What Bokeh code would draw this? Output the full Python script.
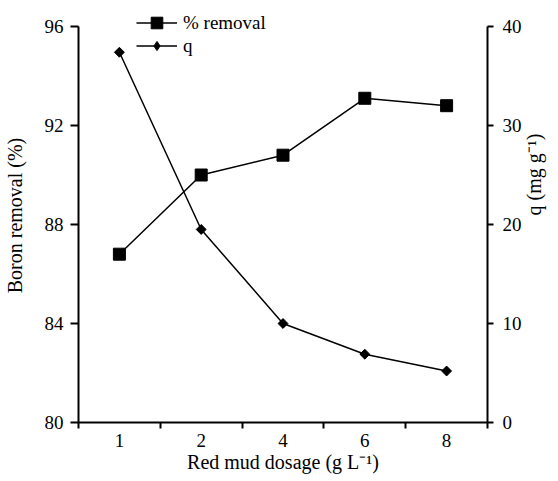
import math
from bokeh.plotting import figure
from bokeh.models import (Range1d, LinearAxis, FixedTicker, Legend, LegendItem,
                          CustomJSTickFormatter)
from bokeh.embed import file_html
from bokeh.resources import INLINE

# ---- data ----
dosage = ["1", "2", "4", "6", "8"]
removal = [86.8, 90.0, 90.8, 93.1, 92.8]
q_vals = [37.4, 19.5, 10.0, 6.9, 5.2]
left_ticks = [80, 84, 88, 92, 96]
right_ticks = [0, 10, 20, 30, 40]

xs = [i + 0.5 for i in range(len(dosage))]
bounds = list(range(len(dosage) + 1))

FONT = "Liberation Serif"
FS = "19px"
FS_LABEL = "20px"

# frame extends 18px above the top tick so the legend is not clipped
TOP_PAD_PX = 18
AX_PX = 396
left_end = left_ticks[-1] + TOP_PAD_PX * (left_ticks[-1] - left_ticks[0]) / AX_PX
right_end = right_ticks[-1] + TOP_PAD_PX * (right_ticks[-1] - right_ticks[0]) / AX_PX

p = figure(width=558, height=481, output_backend="svg", toolbar_location=None,
           x_range=Range1d(0, len(dosage)),
           y_range=Range1d(left_ticks[0], left_end),
           min_border_left=77, min_border_right=66, min_border_top=8,
           min_border_bottom=59)
p.grid.visible = False
p.outline_line_color = None
p.background_fill_color = "white"

def style_axis(ax):
    ax.axis_line_width = 2
    ax.axis_line_color = "black"
    ax.major_tick_line_width = 2
    ax.major_tick_line_color = "black"
    ax.minor_tick_line_width = 2
    ax.minor_tick_line_color = "black"
    ax.major_tick_in = 0
    ax.minor_tick_in = 0
    ax.major_label_text_font = FONT
    ax.major_label_text_font_size = FS
    ax.major_label_text_color = "black"
    ax.axis_label_text_font = FONT
    ax.axis_label_text_font_size = FS_LABEL
    ax.axis_label_text_font_style = "normal"
    ax.axis_label_text_color = "black"

# x axis
xa = p.xaxis[0]
style_axis(xa)
xa.ticker = FixedTicker(ticks=xs, minor_ticks=bounds)
xa.formatter = CustomJSTickFormatter(args=dict(labels=dosage),
                                     code="return labels[Math.floor(tick)];")
xa.major_tick_line_color = None
xa.major_tick_out = 6
xa.minor_tick_out = 6
xa.major_label_standoff = 5
xa.axis_label = "Red mud dosage (g L\u207b\u00b9)"
xa.axis_label_standoff = 1

# left axis
ya = p.yaxis[0]
style_axis(ya)
ya.ticker = FixedTicker(ticks=left_ticks, minor_ticks=[])
ya.bounds = (left_ticks[0], left_ticks[-1])
ya.major_tick_out = 8
ya.minor_tick_out = 0
ya.major_label_standoff = 7
ya.axis_label = "Boron removal (%)"
ya.axis_label_standoff = 16

# right axis
p.extra_y_ranges = {"q": Range1d(right_ticks[0], right_end)}
ra = LinearAxis(y_range_name="q")
style_axis(ra)
ra.ticker = FixedTicker(ticks=right_ticks, minor_ticks=[])
ra.bounds = (right_ticks[0], right_ticks[-1])
ra.major_tick_out = 6
ra.minor_tick_out = 0
ra.major_label_standoff = 9
ra.axis_label = "q (mg g\u207b\u00b9)"
ra.axis_label_standoff = 9
try:
    ra.axis_label_orientation = math.pi / 2
except Exception:
    pass
p.add_layout(ra, "right")

# series
l1 = p.line(xs, removal, line_width=1.5, line_color="black")
s1 = p.scatter(xs, removal, marker="square", size=12, color="black")
l2 = p.line(xs, q_vals, line_width=1.5, line_color="black", y_range_name="q")
# diamond symbol used by the legend (hidden under the rotated squares)
d_leg = p.scatter(xs, q_vals, marker="diamond", size=8, color="black",
                  y_range_name="q")
s2 = p.scatter(xs, q_vals, marker="square", size=7, angle=math.pi / 4,
               color="black", y_range_name="q")

common = dict(orientation="vertical", glyph_width=41, label_height=20,
              spacing=0, padding=0, margin=0, label_standoff=6,
              border_line_color=None, background_fill_alpha=0,
              label_text_font=FONT, label_text_font_size=FS,
              label_text_color="black")
leg_a = Legend(items=[LegendItem(label="% removal", renderers=[l1, s1])],
               location=(58, 385), glyph_height=29, **common)
leg_b = Legend(items=[LegendItem(label="q", renderers=[l2, d_leg])],
               location=(58, 365), glyph_height=23, **common)
p.add_layout(leg_a)
p.add_layout(leg_b)

open("out.html", "w").write(file_html(p, INLINE))
